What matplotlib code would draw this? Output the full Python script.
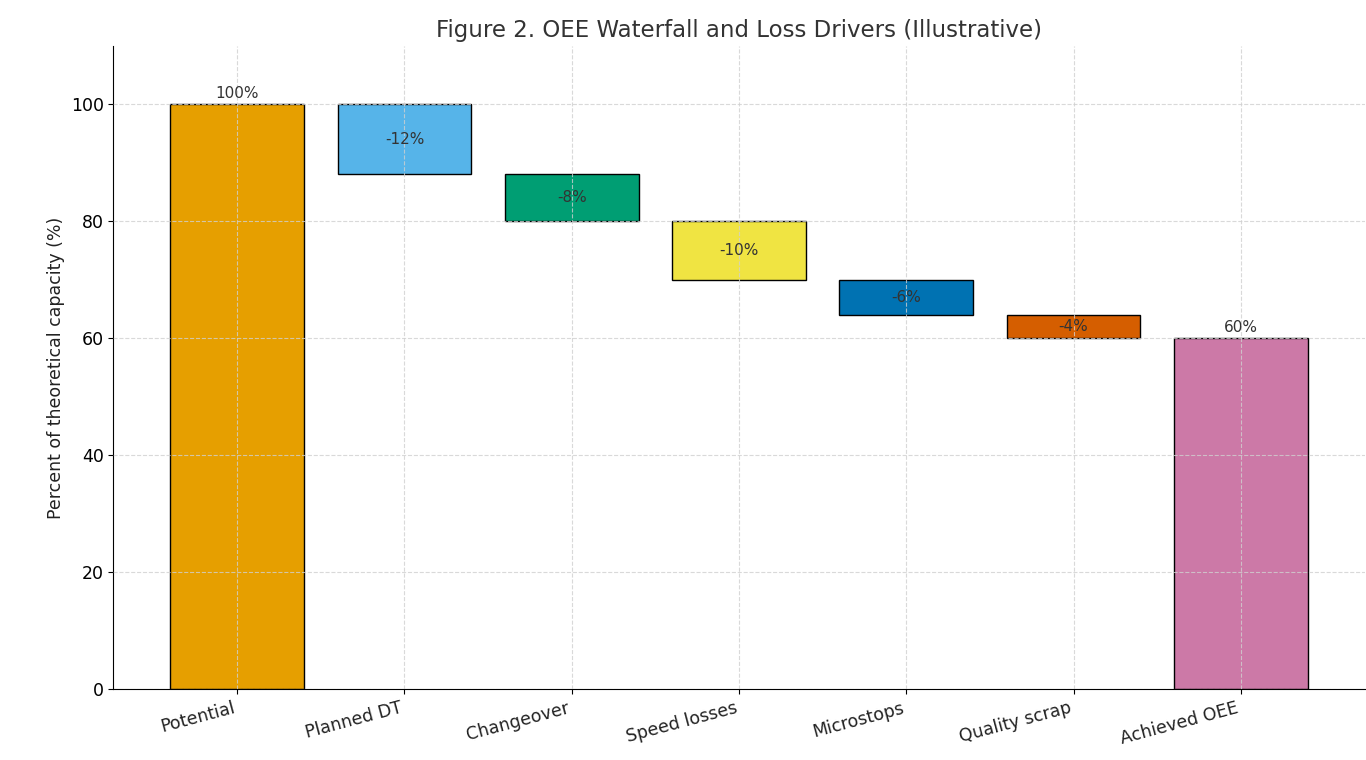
import matplotlib.pyplot as plt

steps = ['Potential', 'Planned DT', 'Changeover', 'Speed losses',
         'Microstops', 'Quality scrap', 'Achieved OEE']
start_value = 100
losses = [-12, -8, -10, -6, -4]
colors = ['#E69F00', '#56B4E9', '#009E73', '#F0E442',
          '#0072B2', '#D55E00', '#CC79A7']

# bottoms and heights for the waterfall
bottoms = [0]
heights = [start_value]
level = start_value
for d in losses:
    level += d
    bottoms.append(level)
    heights.append(-d)
bottoms.append(0)
heights.append(level)

fig, ax = plt.subplots(figsize=(13.66, 7.6), dpi=100)
x = list(range(len(steps)))
ax.bar(x, heights, bottom=bottoms, width=0.8, color=colors,
       edgecolor='black', linewidth=1.0, zorder=2)

ax.text(0, start_value + 0.5, f'{start_value}%', ha='center', va='bottom',
        fontsize=11, color='#333333')
for i, d in enumerate(losses, start=1):
    ax.text(i, bottoms[i] + heights[i] / 2, f'{d}%', ha='center', va='center',
            fontsize=11, color='#333333')
ax.text(len(steps) - 1, level + 0.5, f'{level}%', ha='center', va='bottom',
        fontsize=11, color='#333333')

ax.set_ylim(0, 110)
ax.set_xticks(x)
ax.set_xticklabels(steps, rotation=15, ha='right', fontsize=12.5, color='#222222')
ax.tick_params(axis='y', labelsize=12.5)
ax.set_ylabel('Percent of theoretical capacity (%)', fontsize=12.5, color='#222222')
ax.set_title('Figure 2. OEE Waterfall and Loss Drivers (Illustrative)',
             fontsize=16.5, color='#333333')
ax.grid(True, linestyle='--', color='#d0d0d0', alpha=0.8, linewidth=0.8, zorder=3)
ax.set_axisbelow(False)
ax.spines['top'].set_visible(False)
ax.spines['right'].set_visible(False)

fig.subplots_adjust(left=0.083, right=0.999, top=0.94, bottom=0.093)
fig.savefig('out.png')
